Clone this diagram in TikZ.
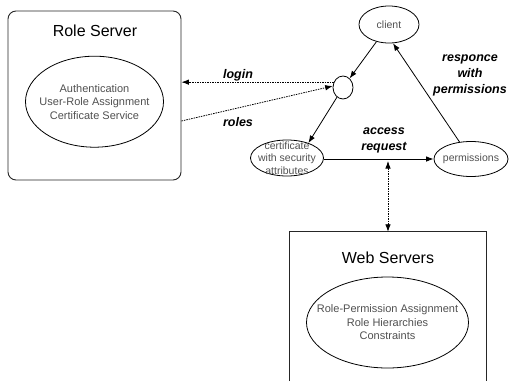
\documentclass[tikz,border=0pt]{standalone}
\usepackage{fontspec}
\setmainfont{Liberation Sans}
\usetikzlibrary{shapes.geometric,arrows.meta,calc}
\definecolor{txtgray}{HTML}{505050}
\begin{document}
\begin{tikzpicture}[x=1pt,y=-1pt,
  ell/.style={ellipse, draw=black, line width=0.8pt, inner sep=0pt},
  graytext/.style={text=txtgray, font=\fontsize{11}{13.5}\selectfont, align=center, inner sep=0pt},
  smalltext/.style={text=txtgray, font=\fontsize{10.5}{12.5}\selectfont, align=center, inner sep=0pt},
  lbl/.style={font=\fontsize{12.5}{16}\selectfont\bfseries\itshape, align=center, inner sep=0pt},
  titletext/.style={font=\fontsize{16}{19}\selectfont, inner sep=0pt},
  arr/.style={-{Latex[length=7.5pt,width=5.5pt]}, line width=0.8pt},
  dotarr/.style={arr, dash pattern=on 1.5pt off 1pt},
]
\useasboundingbox (0,0) rectangle (509,381);
% Role Server
\node[draw=black!85, line width=0.9pt, rounded corners=8pt, minimum width=173pt, minimum height=169pt, inner sep=0pt] (rs) at (94.5,95.5) {};
\node[titletext] (rstitle) at (95,31) {Role Server};
\node[ell, minimum width=138pt, minimum height=91pt] (rsell) at (94.5,101.7) {};
\node[graytext] (rstext) at (rsell) {Authentication\\User-Role Assignment\\Certificate Service};
% Web Servers
\node[minimum width=196pt, minimum height=149pt, inner sep=0pt] (ws) at (388,306.5) {};
\draw[draw=black!85, line width=0.9pt] (ws.south west) -- (ws.north west) -- (ws.north east) -- (ws.south east);
\node[titletext] (wstitle) at (388,258) {Web Servers};
\node[ell, minimum width=162pt, minimum height=91pt] (wsell) at (387.5,322.5) {};
\node[graytext] (wstext) at (wsell) {Role-Permission Assignment\\Role Hierarchies\\Constraints};
% client side
\node[ell, minimum width=60pt, minimum height=37pt] (client) at (389,24.5) {};
\node[smalltext] (clienttext) at (client) {client};
\node[ell, minimum width=20pt, minimum height=23pt] (circ) at (343,87.5) {};
\node[ell, minimum width=73pt, minimum height=36pt] (cert) at (287,158) {};
\node[smalltext] (certtext) at (cert) {certificate\\with security\\attributes};
\node[ell, minimum width=74pt, minimum height=35pt] (perm) at (471,159) {};
\node[smalltext] (permtext) at (perm) {permissions};
% connectors
\draw[arr] (client) -- (circ);
\draw[arr] (circ) -- (cert.35);
\draw[arr] (cert.east |- perm.west) -- (perm.west);
\draw[arr] (perm) -- (client.282);
\draw[dotarr] (circ.150) -- (circ.150 -| rs.east);
\coordinate (rolesy) at (0,121);
\draw[dotarr] (rs.east |- rolesy) -- (circ.172);
\coordinate (ar) at (388,161);
\draw[dotarr, {Latex[length=7.5pt,width=5.5pt]}-{Latex[length=7.5pt,width=5.5pt]}] (ws.north |- ar) -- (ws.north);
% labels
\node[lbl] (loginlbl) at (238,75) {login};
\node[lbl] (roleslbl) at (238,122) {roles};
\node[lbl] (arlbl) at (384,140) {access\\request};
\node[lbl] (resplbl) at (470,75.5) {responce\\with\\permissions};
\end{tikzpicture}
\end{document}
